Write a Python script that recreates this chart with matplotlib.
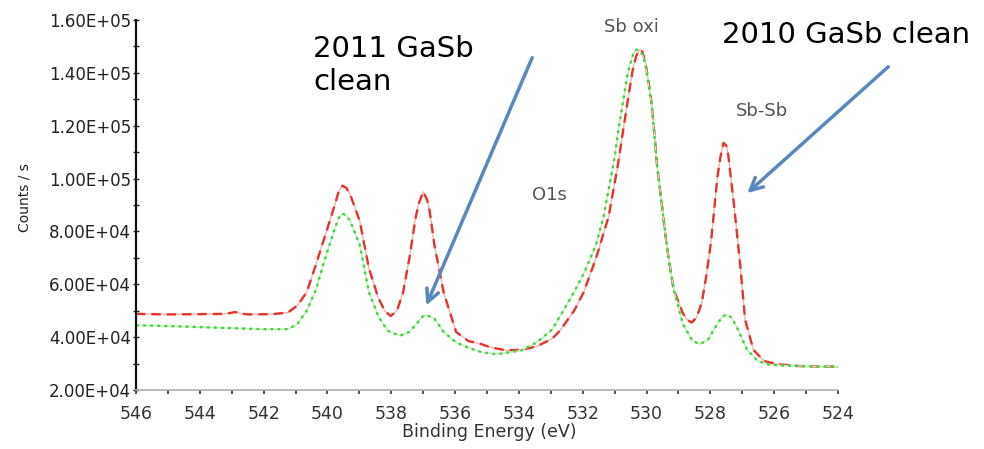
import numpy as np
import matplotlib.pyplot as plt
from matplotlib.ticker import FormatStrFormatter, MultipleLocator

plt.rcParams['font.family'] = ['DejaVu Sans']

# 2010 GaSb clean (red) - binding energy (eV), counts/s
be_red = [546.0, 545.0, 544.0, 543.2, 542.89, 542.7, 542.5, 541.72, 541.24, 540.94,
          540.65, 540.36, 540.07, 539.77, 539.65, 539.53, 539.41, 539.29, 538.99,
          538.7, 538.41, 538.21, 538.02, 537.82, 537.63, 537.43, 537.24, 537.14,
          537.0, 536.88, 536.8, 536.65, 536.36, 535.97, 535.58, 535.19, 534.9,
          534.41, 533.92, 533.44, 532.95, 532.71, 532.27, 531.97, 531.58, 531.19,
          530.9, 530.73, 530.51, 530.42, 530.32, 530.22, 530.13, 530.03, 529.93,
          529.83, 529.67, 529.36, 529.15, 528.86, 528.72, 528.58, 528.43, 528.27,
          528.13, 527.98, 527.78, 527.68, 527.59, 527.5, 527.44, 527.25, 527.07,
          526.91, 526.65, 526.32, 525.93, 525.15, 524.0]
cnt_red = [48800, 48600, 48700, 48800, 49500, 48900, 48600, 48700, 49300, 52000,
           57000, 67500, 78500, 90000, 95000, 97300, 96500, 94000, 84000,
           66000, 55000, 50000, 48000, 50000, 57000, 70000, 85000, 90500,
           95000, 92000, 88000, 75000, 57000, 42000, 38500, 37400, 36200,
           35000, 35200, 36500, 39500, 42500, 50000, 57000, 70000, 85500,
           105000, 118500, 135500, 142000, 146500, 148800, 148000, 143500, 136000,
           127500, 105000, 74000, 58000, 49000, 46500, 45500, 47500, 53000,
           63000, 76000, 100500, 108500, 113500, 112500, 109000, 89000, 68000,
           46500, 35200, 31000, 29800, 29000, 28800]

# 2011 GaSb clean (green)
be_green = [546.0, 545.0, 544.0, 543.0, 542.0, 541.24, 540.94, 540.65, 540.36, 540.07,
            539.77, 539.65, 539.53, 539.41, 539.29, 538.99, 538.7, 538.41, 538.12,
            537.73, 537.43, 537.14, 537.0, 536.89, 536.65, 536.36, 535.97, 535.58,
            535.19, 534.71, 533.92, 533.44, 532.95, 532.71, 532.27, 531.97, 531.58,
            531.35, 531.0, 530.88, 530.61, 530.51, 530.42, 530.32, 530.22, 530.13,
            530.03, 529.83, 529.67, 529.36, 529.15, 528.86, 528.56, 528.32, 528.08,
            527.78, 527.62, 527.49, 527.35, 527.2, 526.86, 526.52, 526.13, 525.15,
            524.0]
cnt_green = [44500, 44200, 43800, 43400, 43000, 43000, 45000, 50000, 58000, 70000,
             81000, 85000, 86800, 86000, 84000, 75000, 57000, 48000, 42500,
             40500, 42000, 46000, 48000, 48300, 47000, 42000, 38000, 36000,
             34400, 33500, 35000, 38000, 43000, 48000, 57000, 64000, 75000,
             85500, 108000, 118500, 138500, 143500, 147000, 148800, 148500, 147000,
             143000, 127000, 105000, 74000, 58000, 45000, 38500, 37400, 39000,
             45000, 47800, 48600, 47500, 44500, 35500, 31000, 29500, 29000,
             28800]

yticks = [20000, 40000, 60000, 80000, 100000, 120000, 140000, 160000]
xticks = [546, 544, 542, 540, 538, 536, 534, 532, 530, 528, 526, 524]

W, H = 984, 449
fig = plt.figure(figsize=(9.84, 4.49), dpi=100)
ax = fig.add_axes([136 / W, 1 - 390 / H, 702 / W, 370 / H])

# faint continuous line under the dashes, like the original export
ax.plot(be_red, cnt_red, color='#f5b3ae', lw=1.0)
ax.plot(be_red, cnt_red, color='#e8332b', lw=1.7, dashes=(4, 2.5))
ax.plot(be_green, cnt_green, color='#baf0b6', lw=1.0)
ax.plot(be_green, cnt_green, color='#3fd43a', lw=1.7, dashes=(1.2, 1.8))

ax.set_xlim(546, 524)
ax.set_ylim(20000, 160000)
ax.set_xticks(xticks)
ax.set_yticks(yticks)
ax.xaxis.set_minor_locator(MultipleLocator(1))
ax.yaxis.set_minor_locator(MultipleLocator(10000))
ax.yaxis.set_major_formatter(FormatStrFormatter('%.2E'))

for s in ['top', 'right']:
    ax.spines[s].set_visible(False)
ax.spines['left'].set_color('#111111')
ax.spines['left'].set_linewidth(1.6)
ax.spines['bottom'].set_color('#b0b0b0')
ax.spines['bottom'].set_linewidth(1.2)

ax.tick_params(axis='y', which='both', direction='inout', length=5, width=1,
               colors='#222222', labelsize=12, pad=1)
ax.tick_params(axis='y', which='minor', length=4)
ax.tick_params(axis='x', which='both', direction='out', length=3, width=1.2,
               colors='#333333', labelsize=12.5, pad=8)

# axis titles
fig.text(25 / W, 1 - 198 / H, 'Counts / s', fontsize=10, color='#222222',
         rotation=90, ha='center', va='center')
fig.text(489 / W, 1 - 437 / H, 'Binding Energy (eV)', fontsize=12.5, color='#333333',
         ha='center', va='baseline')

# peak labels
fig.text(631 / W, 1 - 32 / H, 'Sb oxi', fontsize=13, color='#555555', ha='center', va='baseline')
fig.text(762 / W, 1 - 116 / H, 'Sb-Sb', fontsize=13, color='#555555', ha='center', va='baseline')
fig.text(549 / W, 1 - 200 / H, 'O1s', fontsize=13, color='#555555', ha='center', va='baseline')

# sample labels
fig.text(313 / W, 1 - 57 / H, '2011 GaSb', fontsize=21, color='black', ha='left', va='baseline')
fig.text(313 / W, 1 - 90 / H, 'clean', fontsize=21, color='black', ha='left', va='baseline')
fig.text(722 / W, 1 - 43 / H, '2010 GaSb clean', fontsize=21, color='black',
         ha='left', va='baseline')

arrow = dict(arrowstyle='->,head_length=0.9,head_width=0.45', color='#5b87c0', lw=2.5)
ax.annotate('', xy=(536.94, 51000), xytext=(533.55, 146700),
            arrowprops=arrow, annotation_clip=False)
ax.annotate('', xy=(526.91, 93800), xytext=(522.36, 143000),
            arrowprops=arrow, annotation_clip=False)

plt.savefig('out.png', dpi=100)
